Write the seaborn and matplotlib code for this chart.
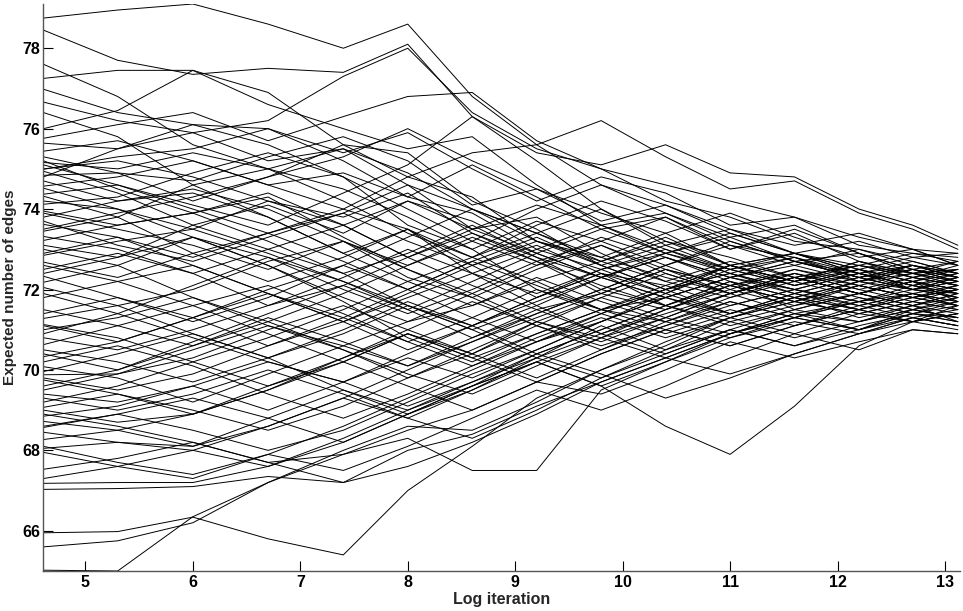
import numpy as np
import pandas as pd
import seaborn as sns
import matplotlib.pyplot as plt

knots = [4.61, 5.3, 6.0, 6.7, 7.4, 8.0, 8.6, 9.2, 9.8, 10.4, 11.0, 11.6, 12.2, 12.7, 13.12]

runs_high = [
    [78.75, 78.95, 79.1, 78.6, 78.0, 78.6, 76.8, 75.6, 74.6, 73.9, 73.3, 73.6, 72.9, 72.5, 72.3],
    [78.45, 77.7, 77.35, 77.5, 77.4, 78.1, 76.3, 75.2, 74.0, 73.2, 72.6, 72.9, 72.4, 72.1, 71.9],
    [77.6, 76.8, 75.6, 75.0, 74.5, 73.8, 73.0, 72.0, 71.5, 71.8, 72.3, 72.0, 71.7, 72.1, 71.8],
    [77.25, 77.45, 77.45, 76.6, 76.0, 75.5, 75.8, 74.6, 73.6, 73.9, 73.2, 72.7, 72.9, 72.4, 72.2],
    [76.98, 76.4, 76.1, 76.0, 75.4, 75.9, 75.0, 74.2, 74.8, 74.4, 73.6, 73.8, 73.1, 72.9, 72.7],
    [76.0, 76.45, 77.45, 76.9, 75.6, 74.8, 74.3, 73.2, 72.8, 73.4, 72.6, 72.2, 72.5, 72.0, 71.9],
    [76.66, 76.2, 75.9, 75.2, 75.5, 74.6, 73.5, 73.8, 72.9, 72.2, 71.8, 72.3, 71.9, 72.3, 72.1],
    [76.4, 75.8, 74.6, 73.8, 72.9, 73.5, 72.6, 71.8, 72.4, 71.6, 72.2, 71.5, 71.9, 71.6, 71.9],
    [75.76, 76.1, 76.4, 75.7, 76.3, 76.8, 76.9, 75.7, 75.0, 74.6, 74.2, 73.8, 73.3, 73.0, 72.6],
    [75.64, 75.5, 75.9, 76.2, 77.3, 78.0, 76.4, 75.5, 75.0, 74.2, 73.8, 73.2, 73.0, 72.6, 72.4],
    [75.44, 75.7, 75.2, 74.6, 74.0, 74.8, 75.4, 75.6, 76.2, 75.3, 74.5, 74.7, 73.9, 73.5, 73.0],
    [75.3, 74.9, 74.2, 74.8, 75.6, 75.4, 74.2, 73.5, 72.6, 72.0, 71.4, 71.9, 71.5, 71.8, 71.6],
    [75.16, 75.0, 75.4, 75.0, 74.2, 73.4, 72.8, 73.4, 74.0, 73.1, 72.5, 72.8, 72.2, 72.6, 72.3],
    [75.1, 74.6, 74.1, 73.6, 74.4, 75.1, 76.3, 75.4, 75.1, 75.6, 74.9, 74.8, 74.0, 73.6, 73.1],
    [74.99, 75.3, 75.5, 76.0, 75.2, 74.3, 73.9, 73.0, 72.5, 72.9, 73.3, 72.7, 72.4, 72.0, 72.2],
    [74.94, 74.4, 73.6, 73.0, 72.4, 72.9, 73.6, 72.8, 72.0, 72.6, 72.0, 71.6, 72.1, 71.8, 72.0],
    [74.84, 74.9, 74.7, 75.3, 75.8, 75.2, 74.1, 74.5, 73.9, 73.4, 73.9, 73.3, 72.8, 73.0, 72.6],
    [74.7, 74.2, 74.5, 74.0, 73.2, 72.3, 71.8, 72.5, 73.1, 72.4, 71.9, 72.3, 71.9, 72.2, 71.7],
    [74.57, 74.8, 75.2, 74.6, 74.9, 74.3, 75.1, 74.3, 73.5, 73.8, 73.0, 73.4, 72.7, 72.4, 72.5],
    [74.52, 74.0, 73.3, 72.6, 71.8, 71.2, 71.6, 72.2, 71.5, 71.2, 71.8, 72.2, 71.8, 71.5, 71.7],
    [75.0, 75.2, 74.8, 74.2, 73.8, 74.4, 73.4, 72.7, 73.2, 73.8, 73.1, 72.6, 73.0, 72.7, 72.4],
    [74.8, 75.5, 76.1, 75.6, 74.8, 74.0, 73.2, 74.0, 74.6, 74.1, 73.4, 72.9, 72.6, 72.9, 72.8],
    [75.2, 74.5, 73.9, 74.4, 73.6, 72.8, 72.1, 71.5, 71.9, 72.5, 72.1, 72.4, 72.0, 71.7, 72.0],
]

runs_upper_mid = [
    [74.37, 74.6, 74.0, 73.4, 73.9, 74.6, 74.0, 73.2, 72.7, 72.2, 72.7, 72.3, 72.6, 72.3, 72.1],
    [74.32, 73.8, 72.9, 72.2, 72.8, 73.5, 72.4, 71.6, 70.9, 71.4, 71.9, 71.4, 71.7, 71.9, 71.6],
    [74.12, 74.3, 74.9, 75.4, 74.8, 73.6, 73.0, 73.7, 73.2, 72.6, 73.1, 72.8, 72.4, 72.6, 72.3],
    [73.95, 73.6, 73.9, 74.3, 73.3, 72.5, 71.9, 71.2, 70.8, 71.3, 70.9, 71.4, 71.2, 71.5, 71.3],
    [73.8, 74.2, 74.4, 73.8, 72.9, 72.2, 72.8, 73.6, 74.2, 73.7, 73.0, 73.5, 72.9, 72.5, 72.7],
    [73.62, 73.3, 72.6, 71.9, 71.2, 71.9, 72.6, 73.2, 72.6, 72.0, 72.4, 71.9, 72.3, 72.0, 72.2],
    [73.45, 73.8, 74.6, 75.0, 75.5, 74.9, 74.0, 73.4, 72.8, 72.3, 71.9, 72.4, 72.1, 71.8, 72.0],
    [73.32, 73.0, 72.4, 73.0, 73.6, 74.2, 73.7, 72.9, 72.3, 72.9, 72.5, 72.1, 72.4, 72.1, 71.9],
    [73.22, 73.6, 73.9, 73.2, 72.4, 71.6, 71.0, 71.6, 72.3, 72.8, 72.3, 72.6, 72.2, 72.4, 72.5],
    [73.0, 72.6, 71.8, 71.1, 70.6, 71.2, 71.9, 72.6, 73.3, 72.8, 72.2, 71.8, 72.2, 72.0, 71.8],
    [72.85, 73.2, 73.5, 74.2, 73.6, 72.8, 73.5, 74.1, 73.6, 72.9, 73.4, 72.9, 72.5, 72.8, 72.6],
    [72.68, 72.3, 72.9, 73.4, 72.7, 72.0, 71.3, 70.7, 71.2, 71.8, 71.3, 71.7, 71.4, 71.2, 71.4],
    [72.5, 72.9, 72.4, 71.6, 72.3, 73.0, 72.4, 71.9, 72.5, 71.9, 72.6, 72.2, 72.7, 72.3, 72.6],
    [72.33, 71.8, 71.2, 71.8, 72.6, 73.3, 74.0, 73.4, 72.7, 73.3, 72.6, 72.9, 72.4, 72.7, 72.4],
    [72.18, 72.6, 73.3, 72.8, 72.0, 71.4, 72.0, 72.7, 72.1, 71.6, 72.1, 71.7, 72.1, 71.8, 72.1],
    [72.05, 71.6, 70.9, 70.3, 70.9, 71.6, 71.1, 71.8, 72.4, 72.1, 71.6, 72.0, 71.7, 72.0, 71.8],
    [73.9, 73.5, 73.1, 72.5, 73.2, 72.6, 73.3, 72.7, 71.9, 71.5, 72.0, 72.5, 72.2, 72.5, 72.3],
    [73.5, 73.9, 74.3, 74.8, 75.3, 76.0, 75.2, 74.5, 73.7, 74.1, 73.5, 73.1, 73.4, 73.0, 72.9],
    [73.1, 72.8, 73.3, 72.6, 71.7, 70.8, 70.2, 70.9, 71.5, 71.0, 71.5, 71.1, 71.6, 71.3, 71.5],
    [72.9, 73.3, 72.8, 73.4, 74.0, 73.5, 72.8, 72.2, 72.7, 73.2, 72.8, 72.3, 72.6, 72.4, 72.2],
    [72.6, 72.2, 71.6, 72.1, 71.4, 70.7, 71.3, 72.0, 71.4, 70.9, 71.4, 71.8, 71.5, 71.8, 71.6],
    [72.4, 72.8, 73.6, 74.1, 73.4, 74.2, 73.5, 72.9, 73.5, 72.9, 72.4, 72.8, 72.3, 72.0, 72.3],
    [74.2, 74.0, 73.5, 72.9, 72.2, 71.5, 70.8, 71.4, 72.0, 71.6, 72.2, 71.8, 72.2, 72.5, 72.2],
    [73.7, 73.1, 72.7, 73.3, 73.9, 73.2, 72.6, 73.1, 72.4, 71.9, 71.4, 71.8, 71.3, 71.6, 71.2],
]

runs_lower_mid = [
    [71.8, 72.2, 72.6, 71.9, 71.2, 70.5, 71.1, 71.8, 72.5, 73.0, 72.4, 72.0, 72.4, 72.1, 72.4],
    [71.5, 71.1, 70.6, 71.2, 71.9, 72.6, 73.2, 72.6, 73.1, 72.5, 71.9, 72.3, 71.9, 72.2, 72.0],
    [71.28, 71.6, 72.0, 72.7, 73.2, 72.5, 71.8, 71.1, 70.6, 71.1, 71.7, 71.3, 71.7, 71.4, 71.7],
    [71.13, 70.8, 70.2, 69.6, 70.2, 70.9, 70.3, 70.9, 71.5, 72.0, 72.6, 72.1, 72.5, 72.2, 72.0],
    [71.0, 71.3, 71.8, 71.2, 70.5, 69.8, 70.4, 71.2, 71.8, 71.3, 71.9, 72.4, 72.0, 72.3, 72.1],
    [70.8, 70.5, 71.0, 71.6, 72.1, 71.5, 72.2, 72.9, 72.3, 71.8, 72.3, 71.9, 72.3, 72.0, 72.3],
    [70.63, 71.1, 71.6, 70.9, 70.2, 69.6, 69.0, 69.7, 70.4, 71.0, 70.6, 71.1, 71.5, 71.2, 71.4],
    [70.5, 70.2, 69.7, 70.3, 71.0, 71.7, 71.1, 70.4, 71.0, 71.6, 71.2, 71.6, 71.9, 71.6, 71.9],
    [70.33, 70.7, 71.3, 71.9, 71.3, 72.0, 72.7, 73.3, 72.6, 73.1, 73.5, 72.9, 73.2, 72.8, 72.9],
    [70.08, 69.8, 69.2, 69.9, 70.6, 70.1, 70.8, 71.5, 70.9, 71.5, 72.1, 71.7, 72.1, 71.8, 72.0],
    [69.96, 70.4, 70.9, 70.3, 69.5, 68.9, 69.5, 70.3, 71.1, 70.5, 71.0, 70.6, 71.0, 71.3, 71.1],
    [69.88, 69.9, 70.3, 71.0, 71.6, 71.0, 70.4, 71.1, 71.8, 72.4, 71.9, 72.3, 71.9, 72.2, 71.9],
    [69.75, 69.4, 68.9, 69.5, 70.3, 71.0, 71.7, 71.1, 70.5, 71.1, 71.6, 72.0, 71.6, 71.9, 71.7],
    [69.5, 69.9, 70.5, 71.1, 70.5, 69.9, 69.4, 70.1, 70.8, 70.3, 70.9, 71.3, 71.0, 71.4, 71.2],
    [69.4, 69.2, 69.6, 69.0, 69.7, 70.4, 71.1, 71.7, 72.3, 71.8, 72.3, 72.7, 72.3, 72.6, 72.3],
    [69.2, 69.6, 70.2, 70.8, 71.5, 72.2, 71.6, 72.3, 71.7, 71.2, 71.7, 71.3, 71.8, 71.5, 71.8],
    [71.9, 71.4, 70.8, 70.2, 69.7, 70.3, 69.8, 70.5, 71.2, 71.8, 71.4, 71.9, 71.6, 71.9, 71.6],
    [71.4, 71.8, 71.3, 72.0, 72.6, 72.0, 72.7, 72.1, 71.5, 72.1, 72.6, 72.2, 72.7, 72.4, 72.7],
    [71.1, 70.7, 71.3, 70.6, 71.2, 71.8, 72.4, 73.0, 73.6, 73.0, 72.5, 72.9, 72.5, 72.2, 72.5],
    [70.9, 71.4, 72.1, 72.8, 72.2, 71.6, 71.0, 70.3, 69.8, 70.4, 71.0, 70.6, 71.1, 71.4, 71.3],
    [70.4, 70.0, 70.6, 71.3, 70.7, 70.1, 70.7, 71.4, 72.0, 72.6, 73.2, 72.7, 72.3, 72.6, 72.4],
    [70.2, 70.6, 70.1, 69.4, 68.8, 69.4, 70.1, 70.8, 71.4, 72.0, 72.4, 72.0, 72.4, 72.1, 72.3],
    [69.8, 69.5, 69.9, 70.6, 71.3, 70.7, 70.1, 70.7, 71.3, 70.8, 71.3, 71.7, 71.4, 71.7, 71.5],
    [69.6, 70.0, 70.7, 71.4, 72.1, 72.8, 73.4, 72.8, 72.3, 72.8, 72.3, 72.7, 72.3, 72.5, 72.2],
    [69.3, 69.0, 69.4, 70.0, 69.4, 68.8, 68.3, 69.0, 69.8, 70.5, 71.2, 70.8, 71.2, 71.5, 71.3],
]

runs_low = [
    [69.07, 69.4, 69.0, 68.5, 69.1, 69.8, 70.5, 71.2, 70.7, 71.3, 71.9, 72.3, 71.9, 72.2, 72.0],
    [69.0, 68.7, 68.9, 69.6, 70.3, 70.9, 70.4, 69.8, 70.5, 71.2, 70.8, 71.3, 71.7, 71.4, 71.6],
    [68.85, 69.1, 69.6, 70.2, 69.7, 69.1, 69.7, 70.4, 69.9, 69.3, 69.8, 70.4, 70.9, 71.2, 71.0],
    [68.72, 68.5, 68.1, 68.6, 69.3, 70.0, 70.7, 71.3, 71.9, 72.5, 72.1, 72.5, 72.1, 72.4, 72.1],
    [68.57, 68.9, 69.3, 68.8, 68.2, 68.9, 69.6, 70.2, 69.6, 70.2, 70.8, 71.2, 70.9, 71.3, 71.1],
    [68.45, 68.2, 68.0, 67.6, 68.2, 68.9, 69.6, 70.4, 71.0, 71.6, 71.1, 71.5, 71.9, 71.6, 71.8],
    [68.27, 68.5, 68.9, 69.5, 70.2, 70.9, 70.3, 69.7, 69.4, 70.0, 70.7, 70.3, 70.7, 71.0, 70.9],
    [68.05, 68.2, 68.1, 68.8, 69.5, 69.0, 69.6, 70.2, 69.6, 68.6, 67.9, 69.1, 70.6, 71.2, 71.6],
    [67.95, 67.6, 67.3, 67.9, 68.6, 69.3, 70.0, 70.7, 71.4, 72.0, 72.6, 72.2, 72.6, 72.3, 72.5],
    [67.53, 67.8, 68.2, 67.7, 67.9, 68.3, 67.5, 67.5, 69.5, 70.2, 70.9, 71.3, 71.0, 71.4, 71.2],
    [67.18, 67.2, 67.2, 67.6, 68.3, 69.0, 69.7, 70.3, 70.9, 70.4, 71.0, 71.5, 71.2, 71.6, 71.4],
    [67.03, 67.05, 67.1, 67.35, 67.2, 68.0, 68.4, 69.1, 69.7, 70.3, 70.9, 71.4, 71.0, 71.5, 71.3],
    [65.95, 65.98, 66.34, 65.8, 65.4, 67.0, 68.1, 69.3, 70.0, 70.6, 71.3, 70.9, 71.4, 71.7, 71.5],
    [65.6, 65.75, 66.2, 67.2, 67.9, 68.5, 69.0, 69.7, 70.4, 71.0, 70.6, 71.1, 71.5, 71.2, 71.4],
    [65.02, 65.0, 66.35, 67.2, 68.0, 68.6, 68.5, 69.2, 70.0, 70.7, 71.3, 71.8, 71.5, 71.9, 71.7],
    [68.9, 68.6, 68.2, 67.7, 67.2, 67.6, 68.2, 68.9, 69.7, 70.3, 69.9, 70.4, 70.9, 71.3, 71.1],
    [68.6, 68.9, 68.5, 68.0, 68.5, 69.2, 69.9, 70.5, 71.2, 71.9, 72.5, 72.1, 72.5, 72.2, 72.4],
    [68.1, 67.7, 67.4, 67.9, 67.5, 68.1, 68.8, 69.5, 69.0, 69.6, 70.3, 70.9, 70.5, 71.0, 70.9],
    [67.3, 67.6, 68.0, 68.6, 69.3, 68.8, 69.5, 70.2, 70.8, 71.5, 72.1, 71.7, 72.2, 71.9, 72.1],
]

x_ticks = [5, 6, 7, 8, 9, 10, 11, 12, 13]
y_ticks = [66, 68, 70, 72, 74, 76, 78]
x_label = "Log iteration"
y_label = "Expected number of edges"

rows = []
run_id = 0
for group in (runs_high, runs_upper_mid, runs_lower_mid, runs_low):
    for run in group:
        for xv, yv in zip(knots, run):
            rows.append((xv, yv, run_id))
        run_id += 1
df = pd.DataFrame(rows, columns=["log_iter", "edges", "run"])

sns.set_theme(style="ticks")
plt.rcParams["font.family"] = ["Liberation Sans", "DejaVu Sans"]

fig = plt.figure(figsize=(9.63, 6.11), dpi=100)
ax = fig.add_axes([43 / 963, 1 - 571 / 611, (960 - 43) / 963, (571 - 4) / 611])

sns.lineplot(data=df, x="log_iter", y="edges", units="run", estimator=None,
             color="black", linewidth=0.7, sort=False, legend=False, ax=ax)

ax.set_xlim(4.605, 13.14)
ax.set_ylim(65, 79.1)
ax.set_xticks(x_ticks)
ax.set_yticks(y_ticks)
ax.tick_params(direction="in", length=7, width=0.8, labelsize=11.5, colors="black")
ax.tick_params(axis="y", pad=2)
ax.tick_params(axis="x", pad=3)
for lab in ax.get_xticklabels() + ax.get_yticklabels():
    lab.set_fontweight("bold")
for s in ["top", "right"]:
    ax.spines[s].set_visible(False)
for s in ["left", "bottom"]:
    ax.spines[s].set_color("#555555")
    ax.spines[s].set_linewidth(1.0)
ax.set_xlabel(x_label, fontsize=11.5, fontweight="bold", labelpad=1)
ax.set_ylabel(y_label, fontsize=11, fontweight="bold")
ax.yaxis.set_label_coords(-0.0285, 0.5)

fig.savefig("out.png", dpi=100)
